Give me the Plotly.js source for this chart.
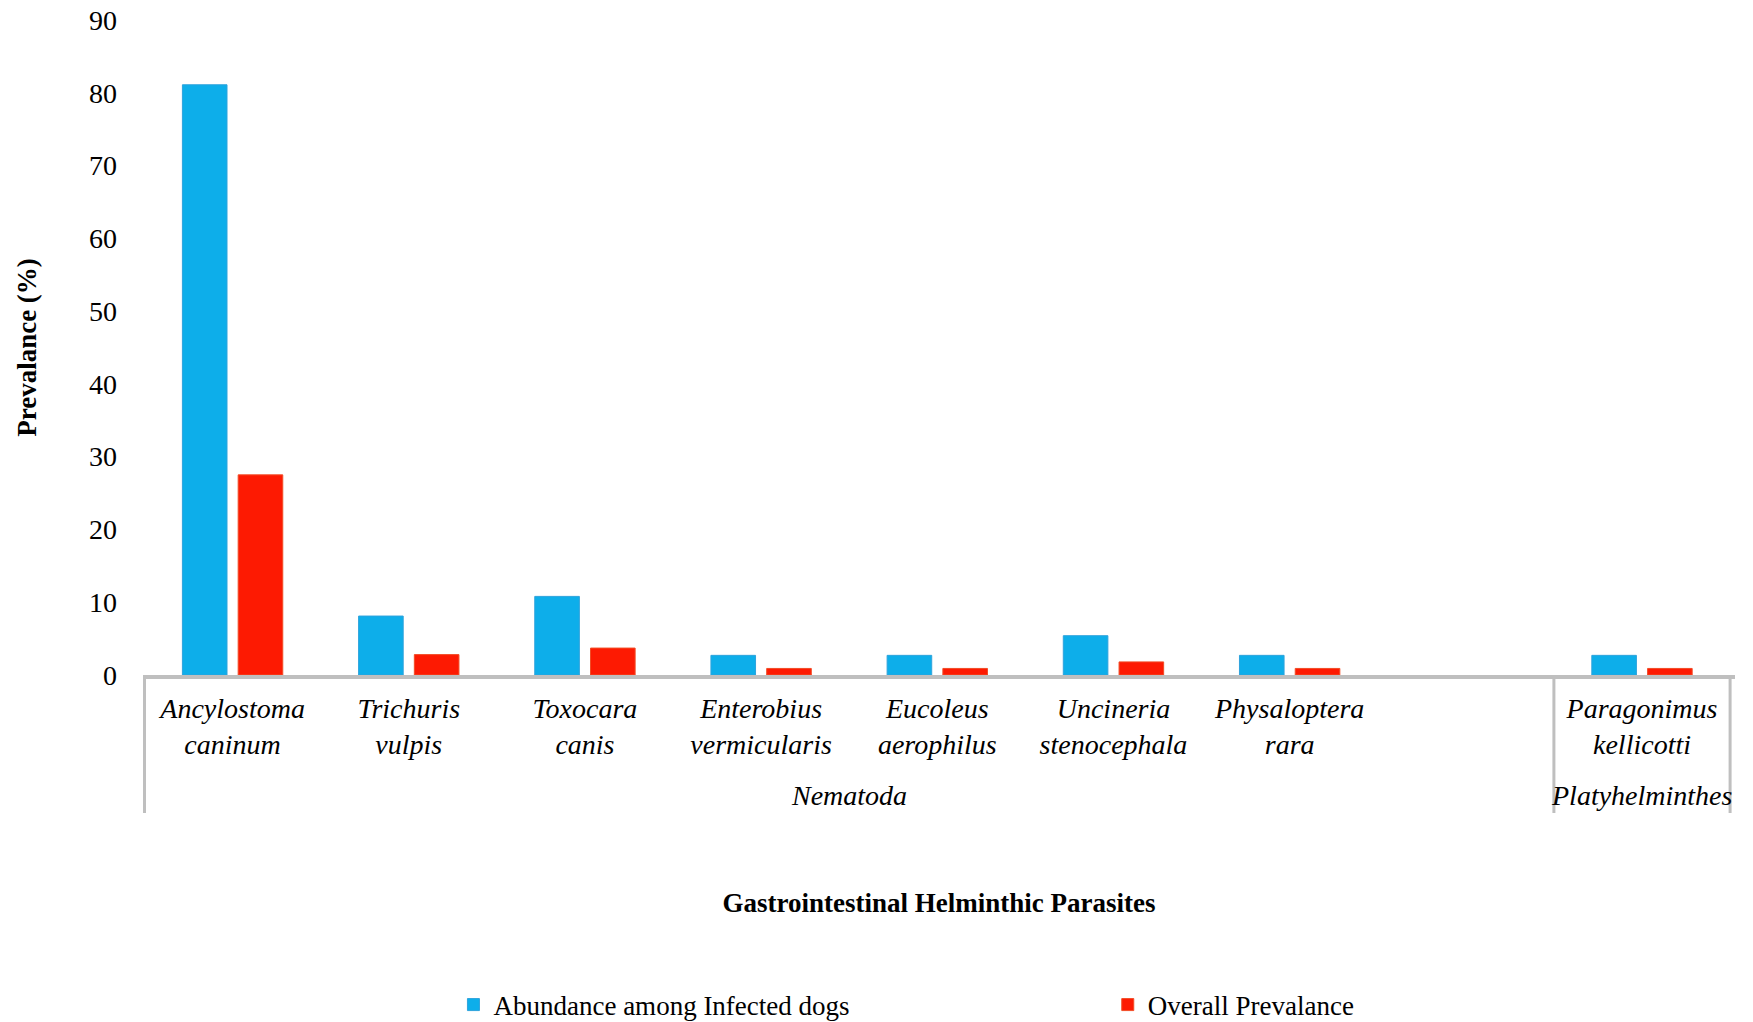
<!DOCTYPE html>
<html>
<head>
<meta charset="utf-8">
<script src="https://cdn.plot.ly/plotly-3.0.1.min.js"></script>
<style>
  html, body { margin: 0; padding: 0; background: #ffffff; }
  #chart { width: 1753px; height: 1022px; }
</style>
</head>
<body>
<div id="chart"></div>
<script>
// Parasite species, one per category slot (slot 8 is left empty before the flatworm)
const species = [
  "Ancylostoma<br>caninum",
  "Trichuris<br>vulpis",
  "Toxocara<br>canis",
  "Enterobius<br>vermicularis",
  "Eucoleus<br>aerophilus",
  "Uncineria<br>stenocephala",
  "Physaloptera<br>rara",
  " ",
  "Paragonimus<br>kellicotti"
];

// Phylum groups: label and the first / last category index each one spans
const phylumNames = ["Nematoda", "Platyhelminthes"];
const phylumFirst = [0, 8];
const phylumLast = [7, 8];

// Abundance among infected dogs (%)
const abundance = [81.1, 8.1, 10.8, 2.7, 2.7, 5.4, 2.7, null, 2.7];

// Overall prevalence (%)
const overall = [27.5, 2.8, 3.7, 0.9, 0.9, 1.8, 0.9, null, 0.9];

const yTicks = [0, 10, 20, 30, 40, 50, 60, 70, 80, 90];

const serif = "Liberation Serif, Times New Roman, Times, serif";
const dividerGray = "#bfbfbf";

const traces = [
  {
    type: "bar",
    name: "Abundance among Infected dogs",
    x: species,
    y: abundance,
    marker: { color: "#0daeea", line: { color: "#2ea3dc", width: 1 } },
    legend: "legend",
    hoverinfo: "y"
  },
  {
    type: "bar",
    name: "Overall Prevalance",
    x: species,
    y: overall,
    marker: { color: "#fd1a02", line: { color: "#f24c26", width: 1 } },
    legend: "legend2",
    hoverinfo: "y"
  }
];

// Phylum labels below the species names, centred on their group of categories
const groupAnnotations = phylumNames.map((name, i) => ({
  text: name,
  xref: "x",
  yref: "paper",
  x: (phylumFirst[i] + phylumLast[i]) / 2,
  y: -0.1847,
  yanchor: "middle",
  xanchor: "center",
  showarrow: false,
  font: { family: serif, size: 28, color: "#000000", style: "italic" }
}));

// Vertical separators at the outer edges of each phylum group
const edges = [phylumFirst[0] - 0.5];
phylumLast.forEach(v => edges.push(v + 0.5));
const dividerShapes = edges.map(e => ({
  type: "line",
  xref: "x",
  yref: "paper",
  x0: e, x1: e,
  y0: 0, y1: -0.2107,
  line: { color: dividerGray, width: 3 }
}));

const legendCommon = {
  orientation: "h",
  xref: "paper",
  yref: "container",
  xanchor: "left",
  yanchor: "middle",
  y: 0.0166,
  itemwidth: 30,
  bgcolor: "rgba(0,0,0,0)",
  font: { family: serif, size: 27, color: "#000000" }
};

const layout = {
  width: 1753,
  height: 1022,
  paper_bgcolor: "#ffffff",
  plot_bgcolor: "#ffffff",
  margin: { l: 143, r: 18, t: 20, b: 347 },
  barmode: "group",
  bargap: 0.367,
  bargroupgap: 0.2,
  font: { family: serif, size: 27, color: "#000000" },
  showlegend: true,
  legend: Object.assign({}, legendCommon, { x: 0.195 }),
  legend2: Object.assign({}, legendCommon, { x: 0.606 }),
  annotations: groupAnnotations,
  shapes: dividerShapes,
  xaxis: {
    type: "category",
    showline: true,
    linecolor: dividerGray,
    linewidth: 4,
    showgrid: false,
    zeroline: false,
    ticks: "",
    ticklabelstandoff: 5,
    tickangle: 0,
    tickfont: { family: serif, size: 28, color: "#000000", style: "italic" },
    title: {
      text: "<b>Gastrointestinal Helminthic Parasites</b>",
      font: { family: serif, size: 27, color: "#000000" },
      standoff: 135
    },
    automargin: false
  },
  yaxis: {
    range: [0, 90],
    tickvals: yTicks,
    ticktext: yTicks.map(String),
    showline: false,
    showgrid: false,
    zeroline: false,
    ticks: "",
    ticklabelstandoff: 25,
    tickfont: { family: serif, size: 28, color: "#000000" },
    title: {
      text: "<b>Prevalance (%)</b>",
      font: { family: serif, size: 27, color: "#000000" },
      standoff: 44
    },
    automargin: false
  }
};

Plotly.newPlot("chart", traces, layout, { displayModeBar: false, staticPlot: true });
</script>
</body>
</html>
